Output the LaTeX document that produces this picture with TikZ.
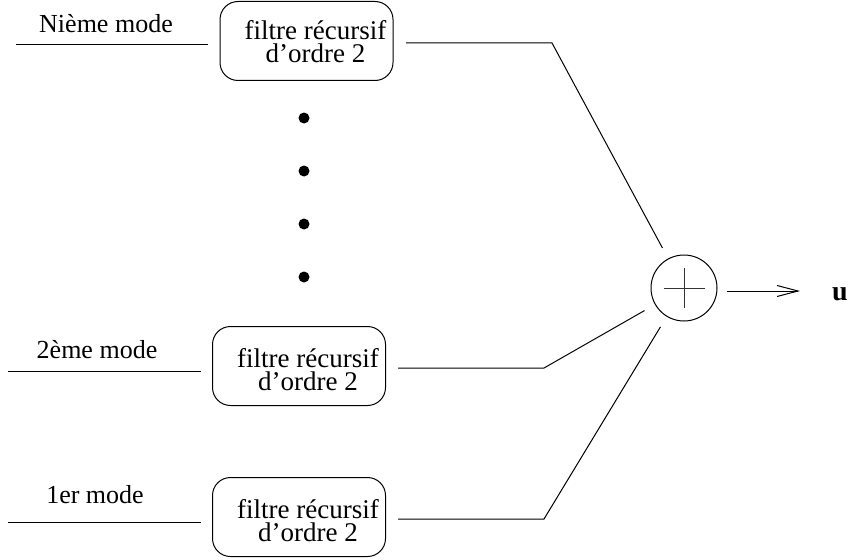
\documentclass[tikz,border=0pt]{standalone}
\usepackage{fontspec}
\setmainfont{Liberation Serif}
\usetikzlibrary{arrows.meta}
\tikzset{
  filterbox/.style={draw, rounded corners=18pt, minimum width=173pt, minimum height=79pt, inner sep=0pt, line width=1pt},
  boxtext/.style={align=center, inner sep=0pt, font=\fontsize{27}{23}\selectfont},
  modelabel/.style={anchor=base, inner sep=0pt, font=\fontsize{26}{28}\selectfont},
  wire/.style={line width=1pt},
  summer/.style={draw, circle, minimum size=66pt, inner sep=0pt, line width=1pt},
  outarrow/.style={line width=1pt, -{Straight Barb[length=21pt,width=11pt,line width=1pt]}},
  ellipsisdot/.style={fill=black}
}
\begin{document}
\begin{tikzpicture}[x=1pt,y=-1pt]
\useasboundingbox (0,0) rectangle (850,559);

% filter boxes
\node[filterbox] (b3) at (306.5,41) {};
\node[filterbox] (b2) at (299,366) {};
\node[filterbox] (b1) at (299,517) {};
\node[boxtext] (b3t) at ([xshift=9pt,yshift=-1pt]b3.center) {filtre récursif\\d'ordre 2};
\node[boxtext] (b2t) at ([xshift=9pt,yshift=-4pt]b2.center) {filtre récursif\\d'ordre 2};
\node[boxtext] (b1t) at ([xshift=9pt,yshift=-4pt]b1.center) {filtre récursif\\d'ordre 2};

% mode labels
\node[modelabel] (l3) at (106,33) {Nième mode};
\node[modelabel] (l2) at (97,358) {2ème mode};
\node[modelabel] (l1) at (95,503) {1er mode};

% input lines
\coordinate (i3a) at (16,45);  \coordinate (i3b) at (208,45);
\coordinate (i2a) at (8,371);  \coordinate (i2b) at (201,371);
\coordinate (i1a) at (8,522);  \coordinate (i1b) at (201,522);
\draw[wire] (i3a) -- (i3b);
\draw[wire] (i2a) -- (i2b);
\draw[wire] (i1a) -- (i1b);

% summer
\node[summer] (sum) at (684,288) {};
\draw[line width=1pt, black!80] ([yshift=20pt]sum.center) -- ([yshift=-20pt]sum.center);
\draw[line width=1pt, black!80] ([xshift=-20.5pt]sum.center) -- ([xshift=20.5pt]sum.center);

% output lines
\coordinate (o3a) at (406,43);  \coordinate (o3b) at (552,43);
\coordinate (o2a) at (398,368); \coordinate (o2b) at (544,368);
\coordinate (o1a) at (398,519); \coordinate (o1b) at (544,519);
\draw[wire, shorten >=12pt] (o3a) -- (o3b) -- (sum);
\draw[wire, shorten >=12pt] (o2a) -- (o2b) -- (sum);
\draw[wire, shorten >=12pt] (o1a) -- (o1b) -- (sum);

% output arrow
\coordinate (uend) at (800,291);
\draw[outarrow] ([xshift=9pt,yshift=-3pt]sum.east) -- (uend);
\node[modelabel, font=\fontsize{28}{30}\selectfont\bfseries] (u) at (840,300) {u};

% dots
\fill[ellipsisdot] (304,118) circle (5.5pt);
\fill[ellipsisdot] (304,171) circle (5.5pt);
\fill[ellipsisdot] (304,224) circle (5.5pt);
\fill[ellipsisdot] (304,277) circle (5.5pt);
\end{tikzpicture}
\end{document}
